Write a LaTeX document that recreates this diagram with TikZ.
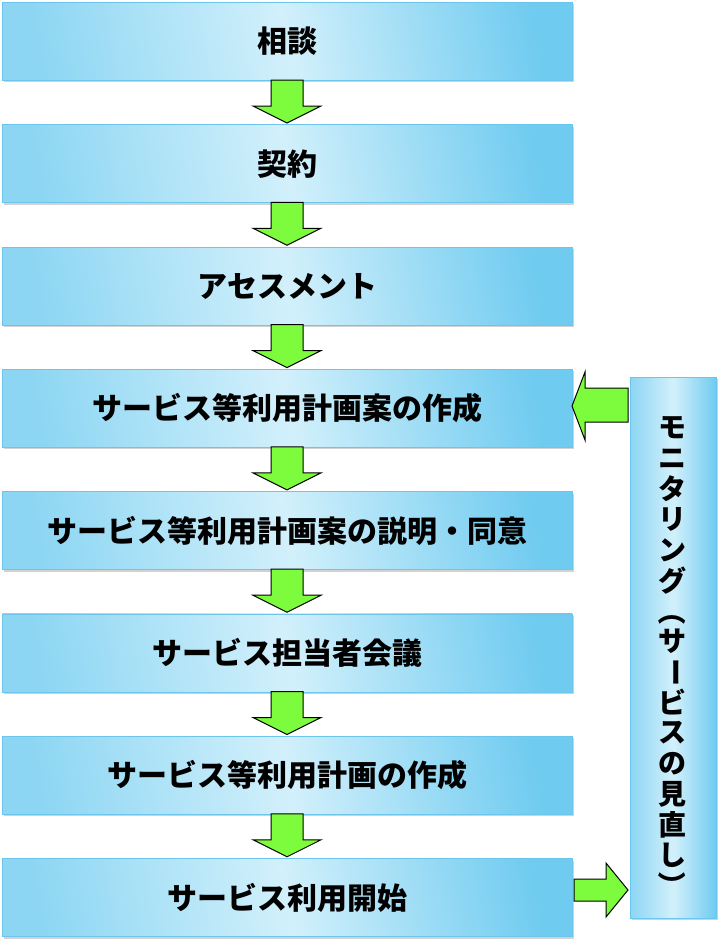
\documentclass[tikz,border=0pt]{standalone}
\usepackage{fontspec}
\newfontfamily\cjk{Noto Sans CJK JP}
\usetikzlibrary{shadows}
\definecolor{edge}{HTML}{6CC6EC}
\definecolor{lite}{HTML}{D2F0FB}
\definecolor{dark}{HTML}{6FCBF0}
\definecolor{grn}{HTML}{7CFC3C}
\tikzset{
 box/.style={draw=edge,line width=0.8pt,left color=dark!70!lite,right color=dark,middle color=lite,
   shading angle=100,minimum width=570pt,minimum height=78pt,inner sep=0pt,anchor=north west,
   drop shadow={shadow xshift=2pt,shadow yshift=-2pt,fill=gray!70},
   font=\cjk\bfseries\fontsize{30}{30}\selectfont},
 garrow/.style={fill=grn,draw=black,line width=1pt,line join=miter},
}
\begin{document}
\begin{tikzpicture}[x=1pt,y=-1pt]
\useasboundingbox (0,0) rectangle (720,942);
\foreach \t [count=\i from 0] in {相談,契約,アセスメント,サービス等利用計画案の作成,サービス等利用計画案の説明・同意,サービス担当者会議,サービス等利用計画の作成,サービス利用開始}{
  \node[box] (b\i) at (2,{2+122.3*\i}) {\t};
}
\foreach \i in {0,...,6}{
  \pgfmathsetmacro\ya{80+122.3*\i}
  \pgfmathsetmacro\yb{\ya+26}
  \pgfmathsetmacro\yc{\ya+43}
  \draw[garrow] (271,\ya) -- (303,\ya) -- (303,\yb) -- (321,\yb) -- (287,\yc) -- (253,\yb) -- (271,\yb) -- cycle;
}
\node[box,minimum width=86pt,minimum height=541pt,shading angle=90] (mon) at (630,377) {};
% left arrow into box 4
\draw[garrow] (628,388) -- (585,388) -- (585,372) -- (572,406) -- (585,440) -- (585,422) -- (628,422) -- cycle;
% right arrow from box 8
\draw[garrow] (574,879) -- (606,879) -- (606,863) -- (628,890) -- (606,917) -- (606,901) -- (574,901) -- cycle;
\foreach \c/\r [count=\k from 0] in {モ/0,ニ/0,タ/0,リ/0,ン/0,グ/0,（/90,サ/0,ー/90,ビ/0,ス/0,の/0,見/0,直/0,し/0,）/90}{
  \node[font=\cjk\bfseries\fontsize{28}{28}\selectfont,rotate=-\r,inner sep=0pt] at (672,{428+30.5*\k}) {\c};
}
\end{tikzpicture}
\end{document}
